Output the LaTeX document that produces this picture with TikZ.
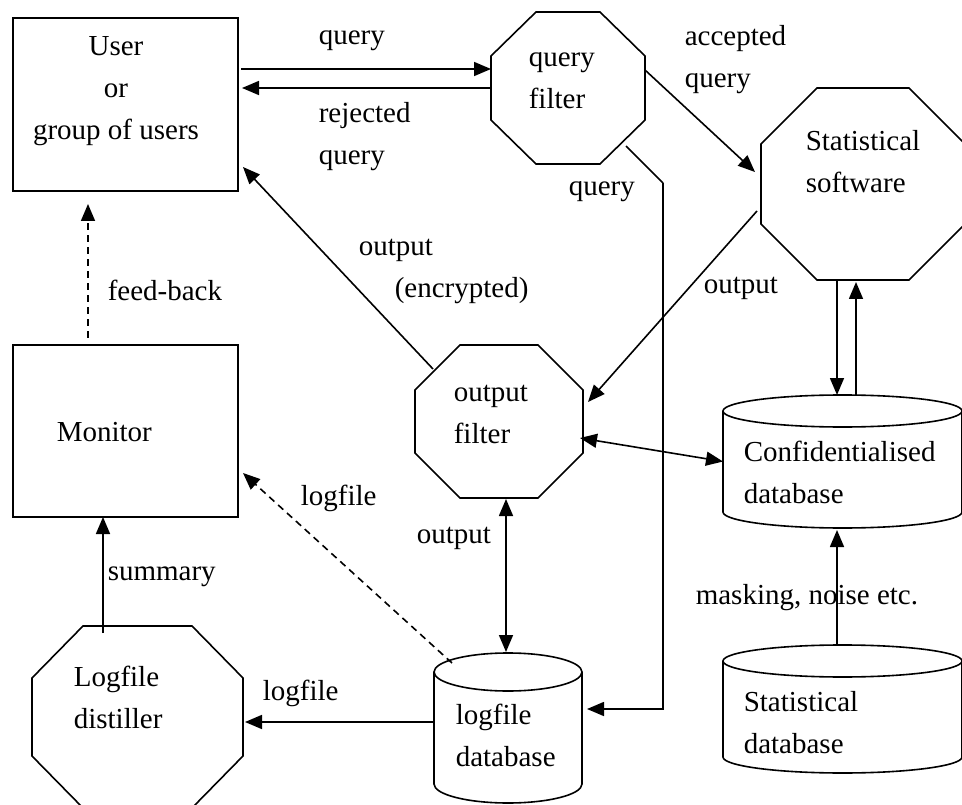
\documentclass[tikz,border=0pt]{standalone}
\usepackage{fontspec}
\setmainfont{Liberation Serif}
\usetikzlibrary{arrows.meta,calc}

\tikzset{
  lbl/.style={font=\fontsize{29}{42}\selectfont, anchor=west, align=left, inner sep=0pt},
  boxnode/.style={draw, rectangle, inner sep=0pt, outer sep=0pt},
  areanode/.style={rectangle, inner sep=0pt, outer sep=0pt},
  arr/.style={-{Triangle[length=17pt,width=14pt]}},
  dblarr/.style={{Triangle[length=17pt,width=14pt]}-{Triangle[length=17pt,width=14pt]}},
  dashline/.style={dash pattern=on 7pt off 5pt},
}

% octagon outline: centre x, centre y, half width, half height, cut x, cut y
\newcommand\drawoct[6]{%
  \draw ({#1-#3+#5},{#2-#4}) -- ({#1+#3-#5},{#2-#4}) -- ({#1+#3},{#2-#4+#6})
     -- ({#1+#3},{#2+#4-#6}) -- ({#1+#3-#5},{#2+#4}) -- ({#1-#3+#5},{#2+#4})
     -- ({#1-#3},{#2+#4-#6}) -- ({#1-#3},{#2-#4+#6}) -- cycle;
}
% cylinder outline: centre x, centre y, x radius, half height, ellipse y radius
\newcommand\drawcyl[5]{%
  \draw ({#1},{#2-#4+#5}) ellipse [x radius=#3, y radius=#5];
  \draw ({#1-#3},{#2-#4+#5}) -- ({#1-#3},{#2+#4-#5})
        arc [start angle=180, end angle=0, x radius=#3, y radius=#5]
        -- ({#1+#3},{#2-#4+#5});
}

\begin{document}
\begin{tikzpicture}[x=1pt, y=-1pt, line width=1.6pt]
\useasboundingbox (0,0) rectangle (962,805);

% ---- boxes ----
\node[boxnode, minimum width=225pt, minimum height=173pt] (user) at (125.5,104.5) {};
\node[boxnode, minimum width=225pt, minimum height=172pt] (monitor) at (125.5,431) {};

% ---- octagons ----
\node[areanode, minimum width=154pt, minimum height=152pt] (qfilter) at (568,88) {};
\drawoct{568}{88}{77}{76}{45}{44}
\node[areanode, minimum width=204pt, minimum height=192pt] (statsw) at (863,184) {};
\drawoct{863}{184}{102}{96}{56}{56}
\node[areanode, minimum width=168pt, minimum height=153pt] (outfilter) at (499,421.5) {};
\drawoct{499}{421.5}{84}{76.5}{45}{45}
\node[areanode, minimum width=211pt, minimum height=182pt] (distiller) at (137.5,717) {};
\drawoct{137.5}{717}{105.5}{91}{51}{52}

% ---- databases ----
\node[areanode, minimum width=239pt, minimum height=133pt] (confdb) at (842.5,461.5) {};
\drawcyl{842.5}{461.5}{119.5}{66.5}{16}
\node[areanode, minimum width=148pt, minimum height=150pt] (logdb) at (508,728) {};
\drawcyl{508}{728}{74}{75}{19}
\node[areanode, minimum width=239pt, minimum height=128pt] (statdb) at (842.5,709) {};
\drawcyl{842.5}{709}{119.5}{64}{16}

% ---- texts inside shapes ----
\node[lbl, anchor=center, align=center] at (116,91) {User\\or\\group of users};
\node[lbl] at (56,432) {Monitor};
\node[lbl] at (528,81) {query\\filter};
\node[lbl] at (805,161.5) {Statistical\\software};
\node[lbl] at (453,414.5) {output\\filter};
\node[lbl] at (73,697.5) {Logfile\\distiller};
\node[lbl] at (743,472.5) {Confidentialised\\database};
\node[lbl] at (455,735) {logfile\\database};
\node[lbl] at (743,722.5) {Statistical\\database};

% ---- connectors ----
\draw[arr] ($(user.east |- 0,69)+(3,0)$) -- (qfilter.west |- 0,69);
\draw[arr] (qfilter.west |- 0,88) -- ($(user.east |- 0,88)+(4,0)$);
\draw[arr] (qfilter.east |- 0,70) -- ($(statsw.west)+(-6,-12)$);
\draw ($(qfilter.center)+(58,58)$) -- ++(37,37) coordinate (qbend);
\draw[arr] (qbend) |- ($(logdb.east)+(5,-19)$);
\draw[arr] ($(statsw.west)+(-4,27)$) -- ($(outfilter.east)+(5,-19.5)$);
\draw[arr] ($(statsw.south)+(-26,0)$) -- ($(confdb.north)+(-5.5,0)$);
\draw[arr] ($(confdb.north)+(13.5,0)$) -- ($(statsw.south)+(-7,2)$);
\draw[dblarr] ($(outfilter.east)+(-3,16.5)$) -- (confdb.west);
\draw[arr] ($(outfilter.center)+(-66,-52.5)$) -- ($(user.south east)+(5,-24)$);
\draw[dblarr] ($(outfilter.south)+(7,1)$) -- ($(logdb.north)+(-2,-1)$);
\draw[arr, dashline] ($(logdb.north)+(-56,10)$) -- ($(monitor.east)+(5,42)$);
\draw[arr] (logdb.west |- 0,722) -- ($(distiller.east |- 0,722)+(2,0)$);
\draw[arr] ($(distiller.north)+(-34.5,7)$) -- ($(monitor.south)+(-22.5,0)$);
\draw[arr, dashline] ($(monitor.north)+(-37.5,-7)$) -- ($(user.south)+(-37.5,13)$);
\draw[arr] ($(statdb.north)+(-5.5,0)$) -- ($(confdb.south)+(-5.5,2)$);

% ---- connector labels ----
\node[lbl] at (318,41) {query};
\node[lbl] at (318,136.5) {rejected\\query};
\node[lbl] at (684,60) {accepted\\query};
\node[lbl] at (568,192) {query};
\node[lbl] at (358,271) {output\\\hspace*{36pt}(encrypted)};
\node[lbl] at (703,288) {output};
\node[lbl] at (107,290) {feed-back};
\node[lbl] at (300,498) {logfile};
\node[lbl] at (416,538) {output};
\node[lbl] at (107,577) {summary};
\node[lbl] at (695,598) {masking, noise etc.};
\node[lbl] at (262,693) {logfile};
\end{tikzpicture}
\end{document}
